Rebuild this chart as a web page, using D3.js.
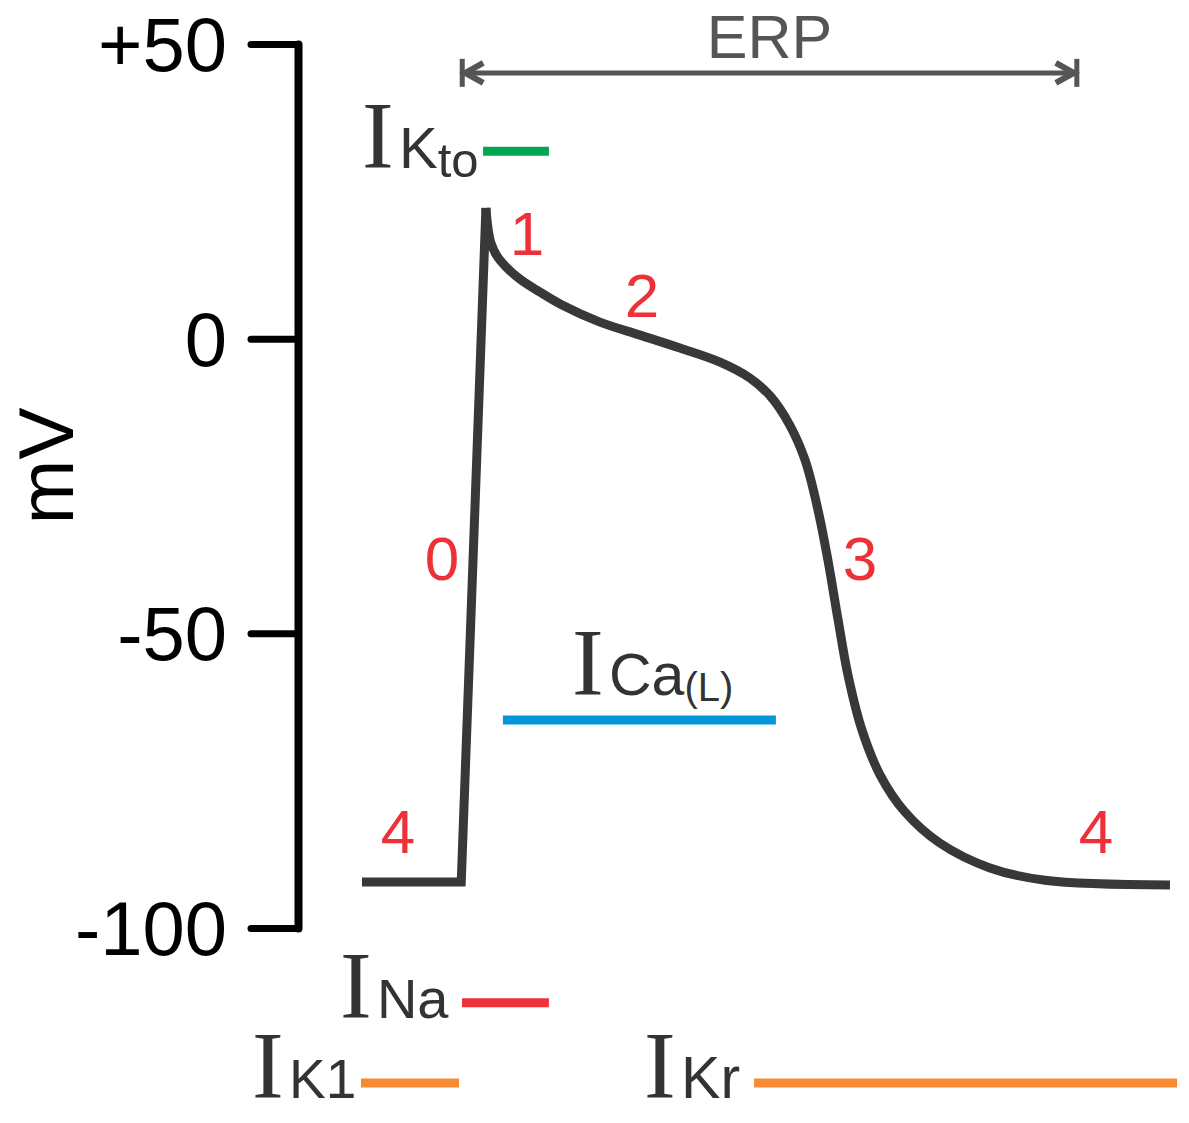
<!DOCTYPE html>
<html><head><meta charset="utf-8">
<script src="https://cdn.jsdelivr.net/npm/d3@7"></script>
<style>body{margin:0;background:#fff} svg{display:block}</style>
</head><body>
<script>
// ---- data ----
const yTickValues = [50, 0, -50, -100];
const yTickLabels = ["+50", "0", "-50", "-100"];
const upstrokeTimes = [0, 49, 61.2];
const upstrokeVolts = [-92.2, -92.2, 22.2];
const repolTimes = [61.2, 62.2, 63.7, 66.7, 71.1, 78.0, 87.9, 98.8, 117.5, 137.3, 157, 176.8, 191.6, 201.5, 211.3, 218.8, 225.2, 230.1, 235.1, 240, 246.9, 255.8, 268.1, 285.4, 310.1, 337.3, 399];
const repolVolts = [22.2, 18.8, 16.2, 14.0, 12.2, 10.1, 7.9, 5.7, 2.8, 0.6, -1.6, -4.0, -6.7, -9.7, -14.7, -20.6, -29.1, -37.6, -47.7, -57.1, -66.4, -74.0, -80.3, -85.6, -89.8, -91.9, -92.7];
const phaseNames = ["0", "1", "2", "3", "4", "4"];
const phaseTimes = [39.5, 81.5, 138.3, 245.9, 17.8, 362.5];
const phaseVolts = [-41, 14.2, 3.7, -41, -87.3, -87.3];
const currentMain = ["Kto", "Ca", "Na", "K1", "Kr"];
const currentStart = [59.8, 69.6, 49.4, -0.5, 193.6];
const currentEnd = [92.3, 204.4, 92.3, 47.9, 402.5];
const currentLevel = [31.8, -64.7, -112.7, -126.3, -126.3];
const currentColors = ["#00a651", "#0096d9", "#ee3138", "#f68b33", "#f68b33"];
const currentLabelT = [0, 103.7, -10.9, -54.3, 139.3];
const currentLabelV = [29.0, -60.5, -115.3, -128.9, -128.9];
const erpStart = 49.5, erpEnd = 353, erpLevel = 45.1;

// ---- drawing ----
const W = 1189, H = 1123;
const svg = d3.select("body").append("svg").attr("width", W).attr("height", H);
const x = d3.scaleLinear().domain([0, 400]).range([362, 1172]);
const y = d3.scaleLinear().domain([-100, 50]).range([928, 44]);
const SANS = "'Liberation Sans', Arial, Helvetica, sans-serif";
const SERIF = "'Liberation Serif', 'Times New Roman', serif";

// axis
const ax = svg.append("g").attr("transform", "translate(298,0)")
  .call(d3.axisLeft(y).tickValues(yTickValues).tickFormat((d, i) => yTickLabels[i])
    .tickSize(47).tickSizeOuter(0).tickPadding(24));
ax.select(".domain").attr("stroke", "#000").attr("stroke-width", 8).attr("stroke-linecap", "round");
ax.selectAll(".tick line").attr("stroke", "#000").attr("stroke-width", 7).attr("stroke-linecap", "round");
ax.selectAll(".tick text").attr("font-family", SANS).attr("font-size", 76).attr("dy", "0.35em").attr("fill", "#000");

svg.append("text").attr("transform", "translate(73,466) rotate(-90)")
  .attr("text-anchor", "middle").attr("font-family", SANS).attr("font-size", 78).attr("fill", "#000").text("mV");

// ERP
const ey = y(erpLevel), ex0 = x(erpStart), ex1 = x(erpEnd);
const erp = svg.append("g").attr("stroke", "#555").attr("fill", "none");
erp.append("line").attr("x1", ex0).attr("x2", ex1).attr("y1", ey).attr("y2", ey).attr("stroke-width", 5);
[ex0, ex1].forEach(xx => erp.append("line").attr("x1", xx).attr("x2", xx).attr("y1", ey - 14).attr("y2", ey + 14).attr("stroke-width", 5));
erp.append("path").attr("d", `M${ex0 + 21},${ey - 10}L${ex0 + 3},${ey}L${ex0 + 21},${ey + 10}`).attr("stroke-width", 6);
erp.append("path").attr("d", `M${ex1 - 21},${ey - 10}L${ex1 - 3},${ey}L${ex1 - 21},${ey + 10}`).attr("stroke-width", 6);
svg.append("text").attr("x", (ex0 + ex1) / 2).attr("y", 58).attr("text-anchor", "middle")
  .attr("font-family", SANS).attr("font-size", 61).attr("fill", "#555").text("ERP");

// action potential
const up = upstrokeTimes.map((t, i) => [t, upstrokeVolts[i]]);
const rep = repolTimes.map((t, i) => [t, repolVolts[i]]);
svg.append("path").datum(up)
  .attr("d", d3.line().x(d => x(d[0])).y(d => y(d[1])).curve(d3.curveLinear))
  .attr("fill", "none").attr("stroke", "#383838").attr("stroke-width", 9).attr("stroke-linejoin", "miter");
svg.append("path").datum(rep)
  .attr("d", d3.line().x(d => x(d[0])).y(d => y(d[1])).curve(d3.curveCatmullRom.alpha(0.5)))
  .attr("fill", "none").attr("stroke", "#383838").attr("stroke-width", 9);

// phase numbers
svg.append("g").selectAll("text").data(phaseNames).join("text")
  .attr("x", (d, i) => x(phaseTimes[i])).attr("y", (d, i) => y(phaseVolts[i]))
  .attr("text-anchor", "middle").attr("font-family", SANS).attr("font-size", 62).attr("fill", "#ee3138")
  .text(d => d);

// current bars
svg.append("g").selectAll("line").data(currentMain).join("line")
  .attr("x1", (d, i) => x(currentStart[i])).attr("x2", (d, i) => x(currentEnd[i]))
  .attr("y1", (d, i) => y(currentLevel[i])).attr("y2", (d, i) => y(currentLevel[i]))
  .attr("stroke", (d, i) => currentColors[i]).attr("stroke-width", 9);

// current labels
const subSizes = [58, 59, 56, 55, 59];
currentMain.forEach((name, i) => {
  const g = svg.append("g").attr("transform", `translate(${x(currentLabelT[i])},${y(currentLabelV[i])})`);
  g.append("text").attr("x", 0).attr("y", 0).attr("font-family", SERIF).attr("font-size", 95).attr("fill", "#333").text("I");
  const t = g.append("text").attr("x", 37).attr("y", 0).attr("font-family", SANS).attr("font-size", subSizes[i]).attr("fill", "#333");
  if (name === "Kto") {
    t.append("tspan").text("K");
    t.append("tspan").attr("font-size", 49).attr("dy", 9).text("to");
  } else if (name === "Ca") {
    t.append("tspan").text("Ca");
    t.append("tspan").attr("font-size", 40).attr("dy", 6).text("(L)");
  } else {
    t.text(name);
  }
});
</script>
</body></html>
